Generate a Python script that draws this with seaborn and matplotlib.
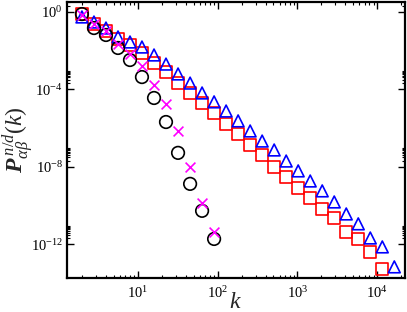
import numpy as np
import pandas as pd
import matplotlib
matplotlib.use("Agg")
import matplotlib.pyplot as plt
import matplotlib.ticker as mticker
import seaborn as sns

# ---- data ----
k_all = [2, 2.83, 4, 5.66, 8, 11.3, 16, 22.6, 32, 45.3, 64, 90.5, 128, 181, 256,
         362, 512, 724, 1024, 1448, 2048, 2896, 4096, 5793, 8192, 11585, 16384]

k_circle = k_all[:12]
p_circle = [0.74, 0.141, 0.0617, 0.0132, 3.16e-3, 4.17e-4, 3.47e-5, 2.0e-6,
            5.13e-8, 1.29e-9, 5.25e-11, 1.86e-12]

k_cross = k_all[:12]
p_cross = [0.66, 0.229, 0.0977, 0.0209, 6.46e-3, 1.55e-3, 1.62e-4, 1.70e-5,
           6.92e-7, 9.55e-9, 1.35e-10, 4.27e-12]

k_square = k_all[:26]
p_square = [0.74, 0.229, 0.0977, 0.038, 0.0186, 7.24e-3, 2.24e-3, 7.59e-4,
            2.04e-4, 6.31e-5, 1.91e-5, 5.89e-6, 1.58e-6, 4.90e-7, 1.32e-7,
            3.98e-8, 9.55e-9, 2.95e-9, 7.94e-10, 2.45e-10, 6.61e-11, 2.29e-11,
            4.27e-12, 1.86e-12, 3.98e-13, 5.37e-14]

k_tri = k_all[:27]
p_tri = [0.525, 0.288, 0.141, 0.049, 0.0269, 0.0148, 5.75e-3, 1.95e-3, 6.03e-4,
         2.04e-4, 6.31e-5, 2.19e-5, 7.41e-6, 2.29e-6, 6.92e-7, 2.09e-7, 7.24e-8,
         1.95e-8, 6.03e-9, 1.82e-9, 5.62e-10, 1.51e-10, 3.63e-11, 1.12e-11,
         2.09e-12, 7.24e-13, 6.76e-14]

x_major = [10, 100, 1000, 10000]
y_major = [1, 1e-4, 1e-8, 1e-12]

# ---- style ----
sns.set_style("ticks")
plt.rcParams["font.family"] = ["Liberation Serif", "DejaVu Serif"]
plt.rcParams["mathtext.fontset"] = "custom"
plt.rcParams["mathtext.rm"] = "Liberation Serif"
plt.rcParams["mathtext.it"] = "Liberation Serif:italic"
plt.rcParams["mathtext.bf"] = "Liberation Serif:bold:italic"

fig = plt.figure(figsize=(4.07, 3.12), dpi=100)
ax = fig.add_axes([67 / 407, 1 - 278 / 312, (405 - 67) / 407, (278 - 2) / 312])

ax.set_xscale("log")
ax.set_yscale("log")

mw = 1.2
sns.scatterplot(x=k_square, y=p_square, marker="s", s=72, facecolors="none",
                edgecolor="#ff0000", linewidth=mw, ax=ax, zorder=3)
sns.scatterplot(x=k_tri, y=p_tri, marker="^", s=72, facecolors="none",
                edgecolor="#0000ff", linewidth=mw, ax=ax, zorder=4)
sns.scatterplot(x=k_circle, y=p_circle, marker="o", s=82, facecolors="none",
                edgecolor="black", linewidth=mw, ax=ax, zorder=5)
sns.scatterplot(x=k_cross, y=p_cross, marker="x", s=50, color="#ff00ff",
                linewidth=mw, ax=ax, zorder=6)

ax.set_xlim(1.3, 22300)
ax.set_ylim(1.8e-14, 3.1)

ax.xaxis.set_major_locator(mticker.FixedLocator(x_major))
ax.xaxis.set_minor_locator(mticker.LogLocator(base=10, subs=np.arange(2, 10), numticks=20))
ax.xaxis.set_major_formatter(mticker.LogFormatterSciNotation())
ax.xaxis.set_minor_formatter(mticker.NullFormatter())

ax.yaxis.set_major_locator(mticker.FixedLocator(y_major))
y_minor = [s * m for m in y_major for s in range(2, 10)]
ax.yaxis.set_minor_locator(mticker.FixedLocator(y_minor))
ax.yaxis.set_major_formatter(mticker.LogFormatterSciNotation())
ax.yaxis.set_minor_formatter(mticker.NullFormatter())

ax.tick_params(which="both", direction="in", top=True, right=True, labelsize=10.5,
               colors="black")
ax.tick_params(which="major", length=5, width=1, pad=3)
ax.tick_params(which="minor", length=2.5, width=0.8)
ax.tick_params(axis="x", which="major", pad=5)
for sp in ax.spines.values():
    sp.set_linewidth(1.6)
    sp.set_color("black")

ax.set_xlabel("")
fig.text(235 / 407, 1 - 303 / 312, "k", fontsize=17, fontstyle="italic",
         ha="center", va="center")
fig.text(18 / 407, 1 - 140 / 312, r"$\mathbf{P}_{\alpha\beta}^{\;n/d}(k)$", rotation=90,
         fontsize=17, ha="center", va="center")

fig.savefig("out.png", dpi=100)
